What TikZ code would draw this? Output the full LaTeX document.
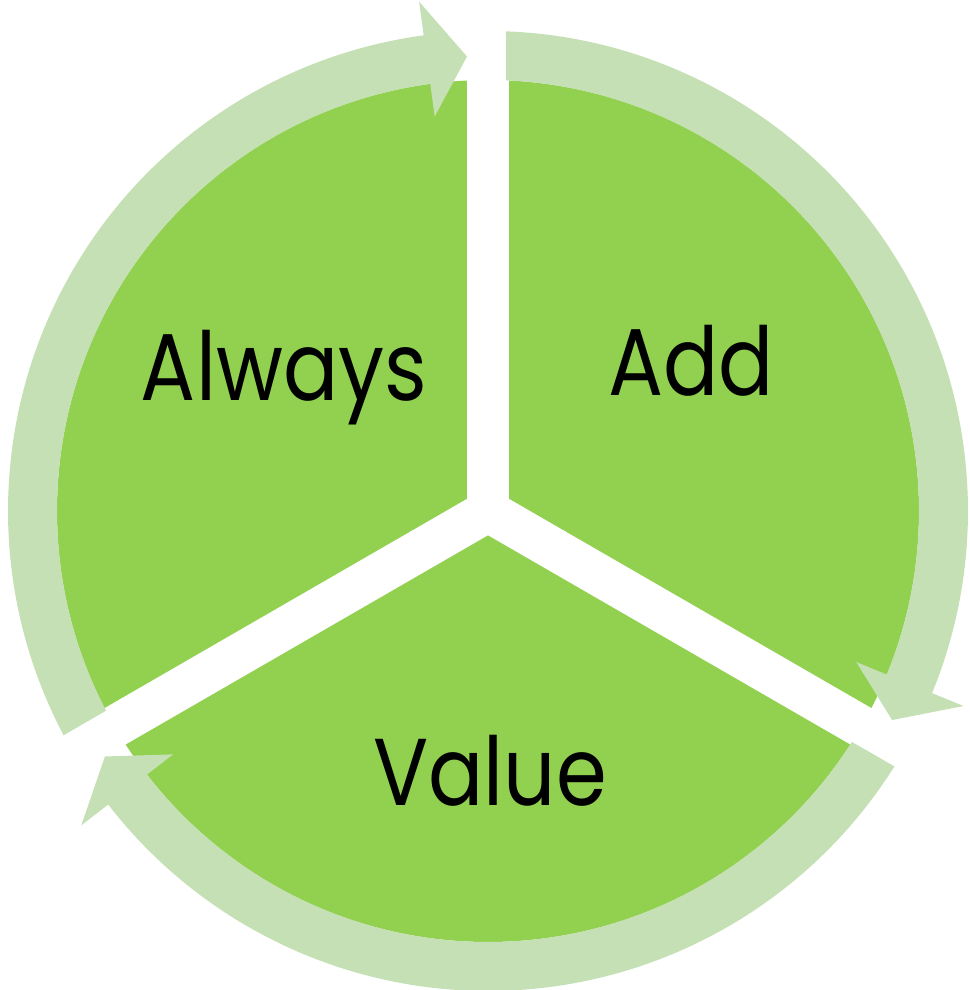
\documentclass[tikz,border=0pt]{standalone}
\usepackage{fontspec}
\setmainfont{Poppins}
\definecolor{piegreen}{HTML}{92D050}
\definecolor{ringgreen}{HTML}{C5E0B4}

\begin{document}
\begin{tikzpicture}[x=1pt,y=1pt]
\tikzset{ringarrow/.style={fill=ringgreen},
  gapline/.style={draw=white, line width=42pt},
  word/.style={anchor=base, xscale=0.86, font=\fontsize{95}{100}\selectfont}}
\useasboundingbox (-488,-479) rectangle (481,511);
% pie and the white gaps
\fill[piegreen] (0,0) circle (431);
\draw[gapline] (0,0) -- (90:500);
\draw[gapline] (0,0) -- (210:500);
\draw[gapline] (0,0) -- (330:500);
\fill[white] (150:24.3) -- (270:24.3) -- (30:24.3) -- cycle;
% ring arrows, clockwise
\fill[ringarrow] (87.85:480) arc[start angle=87.85, end angle=-22.3, radius=480]
  -- (-22.3:514) -- (-27.35:455) -- (-22.3:398) -- (-22.3:431)
  arc[start angle=-22.3, end angle=87.6, radius=431] -- cycle;
\fill[ringarrow] (327.85:480) arc[start angle=327.85, end angle=217.7, radius=480]
  -- (217.7:514) -- (212.65:455) -- (217.7:398) -- (217.7:431)
  arc[start angle=217.7, end angle=327.6, radius=431] -- cycle;
\fill[ringarrow] (207.85:480) arc[start angle=207.85, end angle=97.7, radius=480]
  -- (97.7:514) -- (92.65:455) -- (97.7:398) -- (97.7:431)
  arc[start angle=97.7, end angle=207.6, radius=431] -- cycle;
% labels
\node[word] (always) at (-204,110) {Always};
\node[word] (add) at (203,115) {Add};
\node[word] (value) at (2,-294) {Value};
\end{tikzpicture}
\end{document}
